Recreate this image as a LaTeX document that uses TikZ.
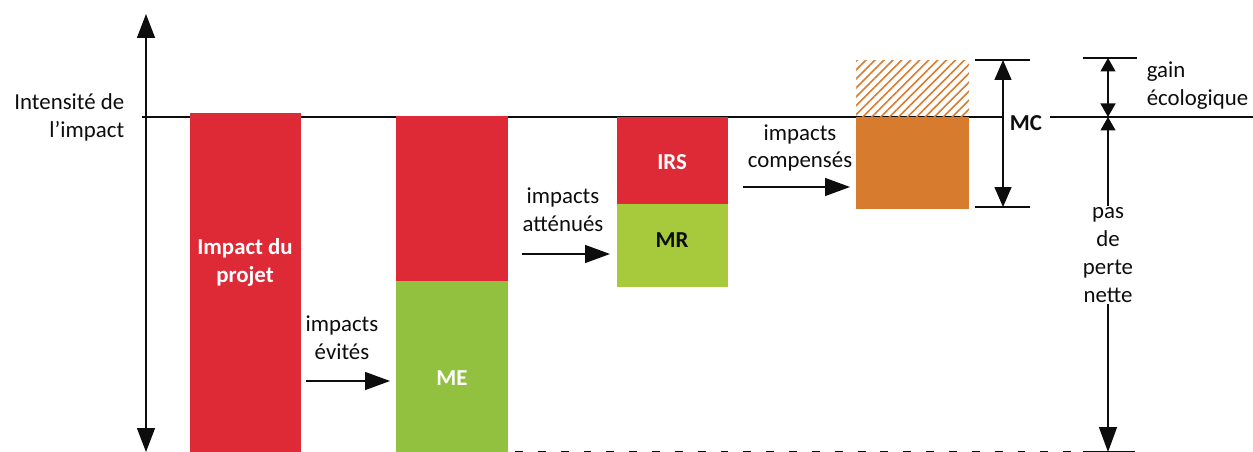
\documentclass[tikz,border=0pt]{standalone}
\usepackage{fontspec}
\setmainfont{Carlito}
\usetikzlibrary{arrows.meta,patterns.meta}
\definecolor{ErcRed}{HTML}{DD2A36}
\definecolor{ErcGreen}{HTML}{92C140}
\definecolor{ErcLime}{HTML}{A7CA3C}
\definecolor{ErcOrange}{HTML}{D77B2E}
\definecolor{ErcInk}{gray}{0.05}
\tikzset{
    erc/diagram/.style={
        x=0.02cm, y=-0.02cm,
        font=\fontsize{13}{15.9}\selectfont,
        draw=ErcInk,
        text=ErcInk,
        line width=0.8pt,
        every node/.style={inner sep=1pt, outer sep=0pt}
    },
    erc/rule/.style={draw=ErcInk, line width=0.8pt},
    erc/axis/.style={
        draw=ErcInk, line width=0.8pt,
        {Triangle[length=0.48cm, width=0.36cm]}-{Triangle[length=0.48cm, width=0.36cm]}
    },
    erc/flow/.style={
        draw=ErcInk, line width=0.8pt,
        -{Triangle[length=0.5cm, width=0.36cm]}
    },
    erc/dimension/.style={
        draw=ErcInk, line width=0.8pt,
        {Triangle[length=0.4cm, width=0.34cm]}-{Triangle[length=0.4cm, width=0.34cm]}
    },
    erc/small/.style={
        draw=ErcInk, line width=0.8pt,
        {Triangle[length=0.27cm, width=0.3cm]}-{Triangle[length=0.27cm, width=0.3cm]}
    },
    erc/lead/.style={
        draw=ErcInk, line width=0.8pt,
        -{Triangle[length=0.27cm, width=0.3cm]}
    },
    erc/hatch/.style={
        pattern={Lines[angle=45, distance=3.6pt, line width=0.9pt]},
        pattern color=ErcOrange
    },
    erc/bartext/.style={font=\fontsize{13}{15.9}\selectfont\bfseries, text=white, align=center},
    erc/label/.style={align=center}
}
\begin{document}
\begin{tikzpicture}[erc/diagram]
    \useasboundingbox (0,0) rectangle (1253,452);
    % reference level of the impact
    \draw[erc/rule] (142,117) -- (1003,117);
    \draw[erc/rule] (1050,117) -- (1253,117);
    \coordinate (axtop) at (146,14);
    \coordinate (axbot) at (146,452);
    \draw[erc/axis] (axtop) -- (axbot);
    \node[anchor=east, align=right] (intensite) at (126,117) {Intensité de\\l’impact};
    % the four bars
    \fill[ErcRed] (190,113) rectangle (301,460);
    \fill[ErcRed] (396,116) rectangle (508,281);
    \fill[ErcGreen] (396,281) rectangle (508,460);
    \fill[ErcRed] (617,117) rectangle (728,204);
    \fill[ErcLime] (617,204) rectangle (728,287);
    \fill[ErcOrange] (856,117) rectangle (969,209);
    \fill[erc/hatch] (856,61) rectangle (969,117);
    \node[erc/bartext] (projet) at (245,262) {Impact du\\projet};
    \node[erc/bartext] (me) at (452,378) {ME};
    \node[erc/bartext] (irs) at (672,162) {IRS};
    \node[erc/bartext, text=ErcInk] (mr) at (672,240) {MR};
    % transitions between the bars
    \node[erc/label] (evites) at (342,338) {impacts\\évités};
    \coordinate (evA) at (306,381);
    \coordinate (evB) at (390,381);
    \draw[erc/flow] (evA) -- (evB);
    \node[erc/label] (attenues) at (563,210) {impacts\\atténués};
    \coordinate (atA) at (522,254);
    \coordinate (atB) at (610,254);
    \draw[erc/flow] (atA) -- (atB);
    \node[erc/label] (compenses) at (800,148) {impacts\\compensés};
    \coordinate (coA) at (743,187);
    \coordinate (coB) at (850,187);
    \draw[erc/flow] (coA) -- (coB);
    % MC span
    \draw[erc/rule] (975,60) -- (1030,60);
    \draw[erc/rule] (975,207) -- (1030,207);
    \coordinate (mcA) at (1003,60);
    \coordinate (mcB) at (1003,207);
    \draw[erc/dimension] (mcA) -- (mcB);
    \node[font=\fontsize{13}{15.9}\selectfont\bfseries] (mc) at (1026,123) {MC};
    % gain and no net loss
    \draw[erc/rule] (1083,58) -- (1137,58);
    \coordinate (gaA) at (1108,58);
    \coordinate (gaB) at (1108,117);
    \draw[erc/small] (gaA) -- (gaB);
    \node[anchor=west, align=left] (gain) at (1145,86) {gain\\écologique};
    \node[erc/label] (ppn) at (1108,255) {pas\\de\\perte\\nette};
    \draw[erc/lead] (ppn.north) -- (gaB);
    \coordinate (ppnbot) at (1108,452);
    \draw[erc/flow] (ppn.south) -- (ppnbot);
    \draw[erc/rule, line width=1.6pt] (1083,452) -- (1135,452);
    \draw[erc/rule, line width=1.6pt, dash pattern=on 4.5pt off 8.5pt] (515,452) -- (1080,452);
\end{tikzpicture}
\end{document}
